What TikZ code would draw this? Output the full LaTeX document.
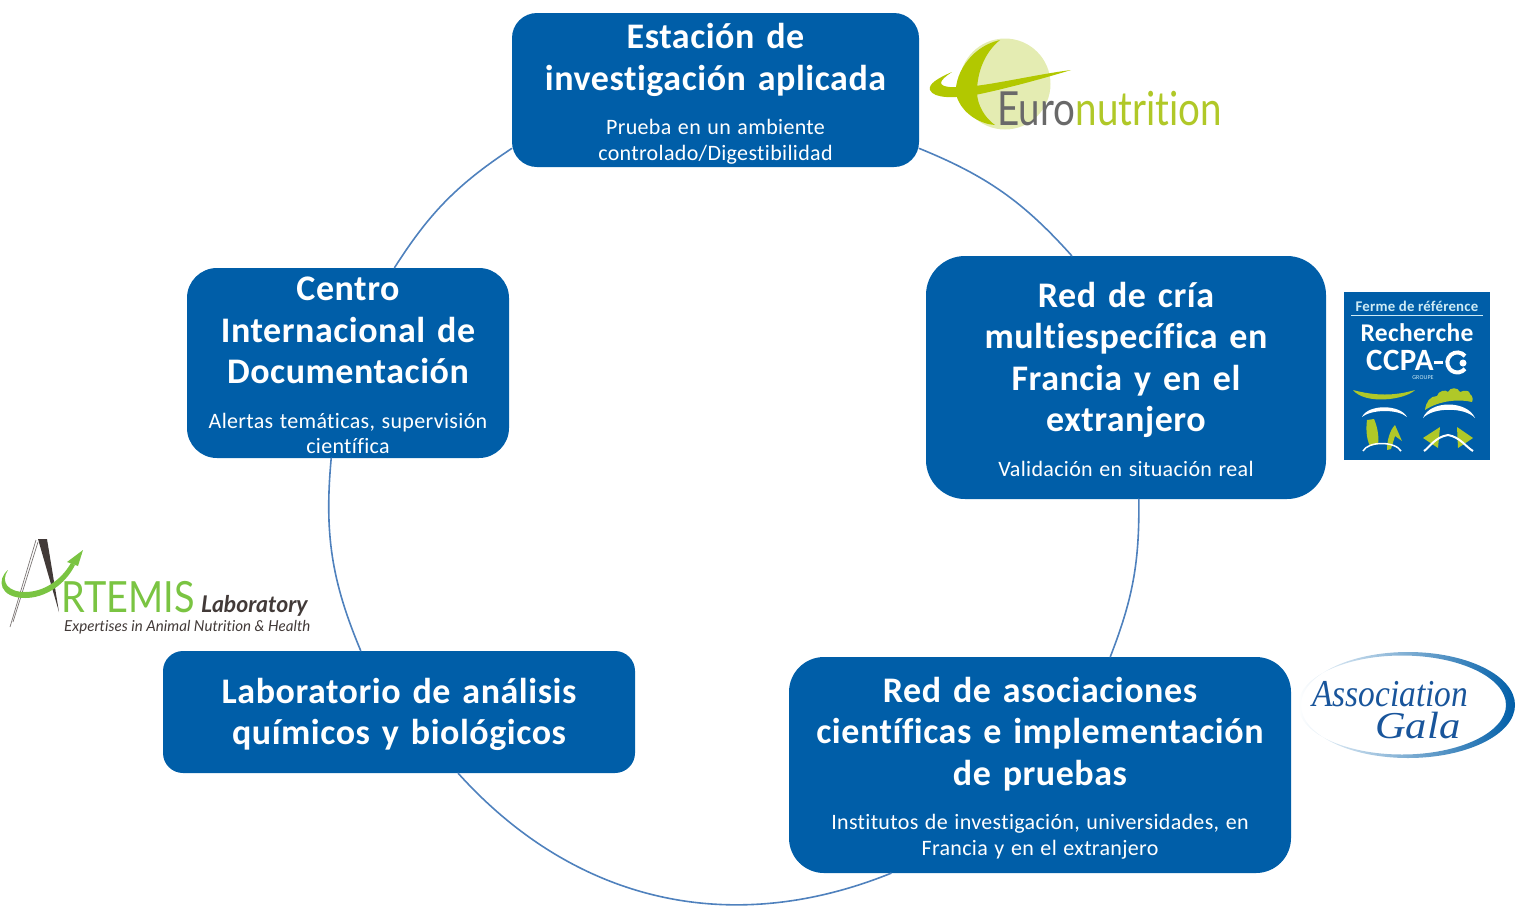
\documentclass[tikz,border=0pt]{standalone}
\usepackage{fontspec}
\setmainfont{Carlito}[Ligatures=NoCommon,LetterSpace=1.5]
\newfontfamily\LatoFont{Lato}[Ligatures=NoCommon]
\newfontfamily\SerifFont{Liberation Serif}
\usepackage{tikz}
\definecolor{ColBox}{RGB}{0,94,168}
\definecolor{ColArc}{RGB}{79,129,189}
\definecolor{ColOlive}{RGB}{178,200,0}
\definecolor{ColPale}{RGB}{228,236,178}
\definecolor{ColGrey}{RGB}{105,105,105}
\definecolor{ColLeaf}{RGB}{176,200,40}
\definecolor{ColSky}{RGB}{205,235,245}
\definecolor{ColArt}{RGB}{122,196,66}
\definecolor{ColDark}{RGB}{66,58,56}
\definecolor{ColGala}{RGB}{25,85,155}
\newcommand{\TitleFont}{\fontsize{36}{41.5}\selectfont\bfseries\spaceskip=.33em\relax}
\newcommand{\SubFont}{\fontsize{22}{25.5}\selectfont\mdseries\spaceskip=.3em\relax}
\newcommand{\TopGap}[1]{\rule{0pt}{\dimexpr 27pt+#1pt\relax}}
\tikzstyle{NodeBox}=[rectangle,fill=ColBox,text=white,align=center,inner sep=0pt]
\tikzstyle{EdgeArc}=[ColArc,line width=1.6pt,line cap=round]
\tikzstyle{LogoText}=[inner sep=0pt,anchor=base]

\begin{document}
\begin{tikzpicture}[x=1pt,y=-1pt]
        \useasboundingbox(0,0)rectangle(1524,906);
        % boxes
        \node[NodeBox,minimum width=407pt,minimum height=154pt,rounded corners=25pt,text width=390pt](station)at(715.5,90){\TitleFont\TopGap{6}Estación de\\investigación aplicada\\[19pt]\SubFont Prueba en un ambiente\\controlado/Digestibilidad\par};
        \node[NodeBox,minimum width=400pt,minimum height=243pt,rounded corners=39pt,text width=380pt](red)at(1126,377.5){\TitleFont\TopGap{2}Red de cría\\multiespecífica en\\Francia y en el\\extranjero\\[19pt]\SubFont Validación en situación real\par};
        \node[NodeBox,minimum width=502pt,minimum height=216pt,rounded corners=35pt,text width=485pt](asoc)at(1040,765){\TitleFont\TopGap{4}Red de asociaciones\\científicas e implementación\\de pruebas\\[19pt]\SubFont Institutos de investigación, universidades, en\\Francia y en el extranjero\par};
        \node[NodeBox,minimum width=472pt,minimum height=122pt,rounded corners=20pt,text width=455pt](lab)at(399,712){\TitleFont\TopGap{3}Laboratorio de análisis\\químicos y biológicos\par};
        \node[NodeBox,minimum width=322pt,minimum height=190pt,rounded corners=30pt,text width=305pt](centro)at(348,363){\TitleFont\TopGap{2}Centro\\Internacional de\\Documentación\\[19pt]\SubFont Alertas temáticas, supervisión\\científica\par};
        % arcs
        \draw[EdgeArc](station.-16.8)to[bend left=13](red.114.5);
        \draw[EdgeArc](red.-84.8)to[bend left=11](asoc.57.2);
        \draw[EdgeArc](asoc.-144.4)to[bend left=35](lab.-46.4);
        \draw[EdgeArc](lab.122)to[bend left=14](centro.-100.7);
        \draw[EdgeArc](centro.64)to[bend left=12](station.196.4);
        % Euronutrition
        \fill[ColPale](1005,84)circle(45.5);
        \fill[ColOlive](1000,40)..controls(965,48)and(950,85)..(958,100)..controls(964,114)and(980,124)..(995,125)
            ..controls(985,118)and(977,105)..(977,92)..controls(977,72)and(985,52)..(1000,40)--cycle;
        \fill[ColOlive](952,72)..controls(938,78)and(928,84)..(930,90)..controls(934,99)and(955,98)..(975,95)
            ..controls(1005,89)and(1045,78)..(1071,70)..controls(1040,74)and(1000,83)..(975,86)
            ..controls(955,88)and(942,88)..(941,83)..controls(941,80)and(946,76)..(952,72)--cycle;
        \node[LogoText,font=\LatoFont\fontsize{47}{47}\selectfont,text=ColGrey,anchor=base west](euro)at(997,125){\scalebox{.82}[1]{Euro}};
        \node[LogoText,font=\LatoFont\fontsize{47}{47}\selectfont,text=ColLeaf,anchor=base west](nutrition)at(euro.base east){\scalebox{.82}[1]{nutrition}};
        % CCPA
        \fill[ColBox](1344,292)rectangle(1490,460);
        \node[LogoText,font=\bfseries\fontsize{14.8}{16}\selectfont,text=ColSky](ferme)at(1417,311){Ferme de référence};
        \draw[ColSky,line width=.7pt](1351,315)--(1483,315);
        \node[LogoText,font=\bfseries\fontsize{25.5}{26}\selectfont,text=white](recherche)at(1417,341){Recherche};
        \node[LogoText,font=\bfseries\fontsize{31}{31}\selectfont,text=white,anchor=base west](ccpa)at(1366,370){CCPA};
        \draw[white,line width=3pt](ccpa.base east)++(0,-8)--++(9,0);
        \draw[white,line width=4pt](1465,356)arc[start angle=-40,end angle=-320,radius=10];
        \fill[white](1463,363)circle(3.5);
        \node[LogoText,font=\fontsize{6}{6}\selectfont,text=ColSky](groupe)at(1423,379){GROUPE};
        \fill[ColLeaf](1353,390)..controls(1375,396)and(1395,396)..(1415,390)..controls(1405,400)and(1365,405)..(1353,390)--cycle;
        \fill[white](1362,417)..controls(1368,404)and(1400,404)..(1407,417)..controls(1398,409)and(1372,409)..(1362,417)--cycle;
        \fill[ColLeaf](1425,410)..controls(1426,402)and(1430,396)..(1437,396)..controls(1438,391)and(1446,389)..(1448,392)..controls(1450,387)and(1458,387)..(1460,392)..controls(1464,390)and(1470,390)..(1470,394)..controls(1473,396)and(1473,400)..(1472,402)..controls(1460,399)and(1440,400)..(1425,410)--cycle;
        \fill[white](1423,418)..controls(1430,400)and(1467,400)..(1475,418)..controls(1465,407)and(1433,407)..(1423,418)--cycle;
        \fill[ColLeaf](1367,420)--(1374,419)..controls(1378,428)and(1379,438)..(1378,444)--(1370,446)..controls(1366,438)and(1366,428)..(1367,420)--cycle;
        \fill[ColLeaf](1387,450)..controls(1387,440)and(1390,430)..(1395,425)--(1402,441)--(1395,436)--(1391,449)--cycle;
        \draw[white,line width=1.5pt](1363,451)..controls(1368,441)and(1395,441)..(1401,451);
        \fill[ColLeaf](1423,438)--(1440,427)--(1438,448)--cycle;
        \fill[ColLeaf](1473,438)--(1457,427)--(1458,448)--cycle;
        \draw[white,line width=2pt](1424,451)..controls(1430,447)and(1435,437)..(1448,435)..controls(1460,437)and(1466,447)..(1473,451);
        % Artemis
        \fill[ColDark](38,539)--(47,539)--(59,612)--cycle;
        \draw[ColDark!70,line width=.7pt](36,540)--(10,627);
        \draw[ColDark!70,line width=.7pt](38,542)--(13,622);
        \fill[ColArt](8,570)..controls(-4,580)and(0,598)..(25,598)..controls(45,598)and(65,585)..(75,565)--(71,563)
            ..controls(60,582)and(42,592)..(25,592)..controls(8,592)and(0,582)..(8,570)--cycle;
        \fill[ColArt](83,550)--(67,562)--(78,566)--cycle;
        \node[LogoText,font=\LatoFont\fontsize{43}{43}\selectfont,text=ColArt,anchor=base west](rtemis)at(61,612){\scalebox{.88}[1]{RTEMIS}};
        \node[LogoText,font=\LatoFont\bfseries\itshape\fontsize{23}{23}\selectfont,text=ColDark,anchor=base west](laboratory)at(201,612){Laboratory};
        \node[LogoText,font=\LatoFont\itshape\fontsize{15.1}{15}\selectfont,text=ColDark,anchor=base west](expertises)at(64,631){Expertises in Animal Nutrition \& Health};
        % Gala
        \shade[even odd rule,left color=white,right color=ColBox](1408,705)ellipse[x radius=107,y radius=53](1402,705)ellipse[x radius=104,y radius=49.5];
        \node[LogoText,font=\SerifFont\itshape\fontsize{38}{38}\selectfont,text=ColGala,anchor=base west](association)at(1312,706){\scalebox{.88}[1]{Association}};
        \node[LogoText,font=\SerifFont\itshape\fontsize{38}{38}\selectfont,text=ColGala,anchor=base west](gala)at(1375,738){\scalebox{1.12}[1]{Gala}};
\end{tikzpicture}
\end{document}
